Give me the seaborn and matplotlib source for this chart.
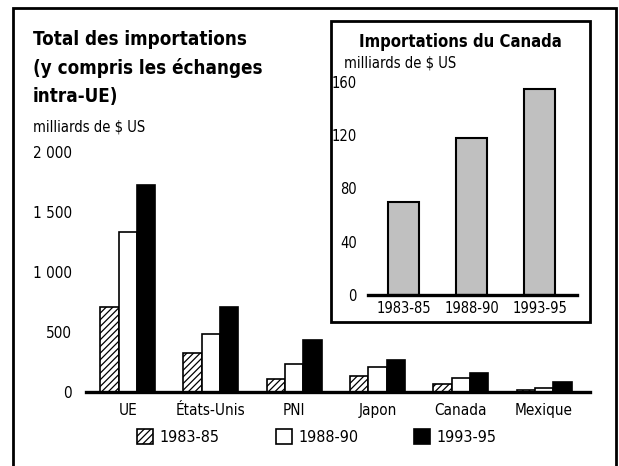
import matplotlib
matplotlib.use("Agg")
import matplotlib.pyplot as plt
from matplotlib.patches import Patch, Rectangle
import seaborn as sns
import pandas as pd

# values (milliards de $ US)
regions = ["UE", "États-Unis", "PNI", "Japon", "Canada", "Mexique"]
periods = ["1983-85", "1988-90", "1993-95"]
v_1983 = [708, 325, 108, 133, 70, 20]
v_1988 = [1333, 483, 233, 208, 118, 35]
v_1993 = [1725, 708, 433, 267, 155, 80]
canada = [70, 118, 155]

df = pd.DataFrame({
    "region": regions * 3,
    "periode": [p for p in periods for _ in regions],
    "valeur": v_1983 + v_1988 + v_1993,
})
df_can = pd.DataFrame({"periode": periods, "valeur": canada})

sns.set_theme(style="white")
plt.rcParams["font.family"] = ["DejaVu Sans"]
plt.rcParams["font.stretch"] = "condensed"
plt.rcParams["text.color"] = "black"
plt.rcParams["hatch.linewidth"] = 0.9

fig = plt.figure(figsize=(6.19, 4.66), dpi=100)

# ---- main chart
ax = fig.add_axes([0.139, 0.1588, 0.814, 0.515])
sns.barplot(data=df, x="region", y="valeur", hue="periode", ax=ax,
            width=0.66, gap=0, edgecolor="black", linewidth=1.2,
            palette=["white", "white", "black"], legend=False)
for i, cont in enumerate(ax.containers):
    for bar in cont:
        if i == 0:
            bar.set_hatch("/////")
ax.set_xlim(-0.5, 5.55)
ax.set_ylim(0, 2000)
ax.set_yticks([0, 500, 1000, 1500, 2000])
ax.set_yticklabels(["0", "500", "1 000", "1 500", "2 000"])
ax.set_xlabel("")
ax.set_ylabel("")
for s in ["top", "left", "right"]:
    ax.spines[s].set_visible(False)
ax.spines["bottom"].set_linewidth(2.4)
ax.spines["bottom"].set_color("black")
ax.tick_params(axis="both", length=0, labelsize=11, colors="black")
ax.tick_params(axis="y", pad=10)
ax.tick_params(axis="x", pad=8)
ax.patch.set_alpha(0)

fig.text(33 / 619, 1 - 68 / 466, "Total des importations\n(y compris les échanges\nintra-UE)",
         fontsize=13.5, fontweight="bold", va="center", ha="left", linespacing=1.6)
fig.text(33 / 619, 1 - 127 / 466, "milliards de $ US", fontsize=10.5, va="center", ha="left")

# ---- inset
box = Rectangle((331 / 619, 1 - 322 / 466), 259 / 619, 301 / 466, transform=fig.transFigure,
                facecolor="white", edgecolor="black", linewidth=2, zorder=1)
fig.patches.append(box)
axi = fig.add_axes([0.5945, 0.367, 0.3376, 0.457])
axi.set_zorder(2)
sns.barplot(data=df_can, x="periode", y="valeur", ax=axi, width=0.46,
            color="#c0c0c0", saturation=1, edgecolor="black", linewidth=1.5)
axi.set_xlim(-0.52, 2.55)
axi.set_ylim(0, 160)
axi.set_yticks([0, 40, 80, 120, 160])
axi.set_xlabel("")
axi.set_ylabel("")
for s in ["top", "left", "right"]:
    axi.spines[s].set_visible(False)
axi.spines["bottom"].set_linewidth(2.4)
axi.spines["bottom"].set_color("black")
axi.tick_params(axis="both", length=0, labelsize=10.5, colors="black")
axi.tick_params(axis="y", pad=8)
axi.tick_params(axis="x", pad=4)
axi.patch.set_alpha(0)
fig.text(460 / 619, 1 - 42 / 466, "Importations du Canada", fontsize=12, fontweight="bold",
         va="center", ha="center", zorder=3)
fig.text(344 / 619, 1 - 63 / 466, "milliards de $ US", fontsize=10.5, va="center", ha="left", zorder=3)

# ---- legend
handles = [Patch(facecolor="white", edgecolor="black", hatch="/////", linewidth=1.2),
           Patch(facecolor="white", edgecolor="black", linewidth=1.2),
           Patch(facecolor="black", edgecolor="black", linewidth=1.2)]
fig.legend(handles, periods, loc="center", bbox_to_anchor=(317 / 619, 1 - 437 / 466), ncol=3,
           frameon=False, fontsize=11.5, handlelength=1.0, handleheight=1.1,
           handletextpad=0.4, columnspacing=3.5)

# ---- outer frame
frame = Rectangle((13 / 619, -0.1), 603 / 619, 1.1 - 8 / 466, transform=fig.transFigure,
                  facecolor="none", edgecolor="black", linewidth=2, zorder=0)
fig.patches.append(frame)

fig.savefig("out.png", dpi=100)
